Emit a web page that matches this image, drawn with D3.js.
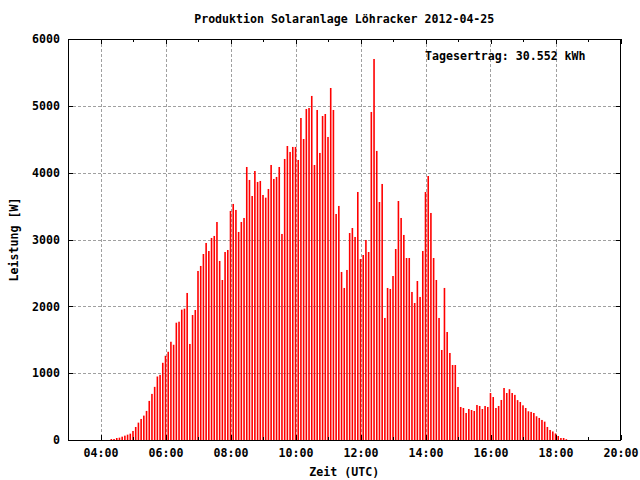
<!DOCTYPE html>
<html>
<head>
<meta charset="utf-8">
<script src="https://cdn.jsdelivr.net/npm/d3@7"></script>
<style>
  body { margin: 0; background: #fff; }
  svg { display: block; }
  text { font-family: "DejaVu Sans Mono", "Liberation Mono", monospace; font-weight: bold; font-size: 11.6px; fill: #000; }
</style>
</head>
<body>
<svg id="chart" width="640" height="480"></svg>
<script>
// ---- data (5-minute power samples, W) ----
const times = [
  "04:20","04:25","04:30","04:35","04:40","04:45","04:50","04:55",
  "05:00","05:05","05:10","05:15","05:20","05:25","05:30","05:35","05:40","05:45","05:50","05:55",
  "06:00","06:05","06:10","06:15","06:20","06:25","06:30","06:35","06:40","06:45","06:50","06:55",
  "07:00","07:05","07:10","07:15","07:20","07:25","07:30","07:35","07:40","07:45","07:50","07:55",
  "08:00","08:05","08:10","08:15","08:20","08:25","08:30","08:35","08:40","08:45","08:50","08:55",
  "09:00","09:05","09:10","09:15","09:20","09:25","09:30","09:35","09:40","09:45","09:50","09:55",
  "10:00","10:05","10:10","10:15","10:20","10:25","10:30","10:35","10:40","10:45","10:50","10:55",
  "11:00","11:05","11:10","11:15","11:20","11:25","11:30","11:35","11:40","11:45","11:50","11:55",
  "12:00","12:05","12:10","12:15","12:20","12:25","12:30","12:35","12:40","12:45","12:50","12:55",
  "13:00","13:05","13:10","13:15","13:20","13:25","13:30","13:35","13:40","13:45","13:50","13:55",
  "14:00","14:05","14:10","14:15","14:20","14:25","14:30","14:35","14:40","14:45","14:50","14:55",
  "15:00","15:05","15:10","15:15","15:20","15:25","15:30","15:35","15:40","15:45","15:50","15:55",
  "16:00","16:05","16:10","16:15","16:20","16:25","16:30","16:35","16:40","16:45","16:50","16:55",
  "17:00","17:05","17:10","17:15","17:20","17:25","17:30","17:35","17:40","17:45","17:50","17:55",
  "18:00","18:05","18:10","18:15","18:20"
];
const power = [
  15,15,30,35,50,65,80,95,
  135,195,260,315,365,435,585,690,795,950,975,1155,
  1260,1320,1470,1425,1755,1770,1950,1965,2200,1437,1870,1945,
  2529,2604,2783,2948,2828,3023,3053,3262,2679,2394,2813,2843,
  3427,3532,3442,3113,3262,3322,4085,3891,3651,4025,3861,3876,
  3666,3626,3756,4115,3906,3936,4085,3083,4205,4399,4310,4385,
  4385,4190,4818,4504,4953,4968,5148,4115,4938,4295,4848,4878,
  4534,5267,4938,3382,3502,2514,2275,2544,3097,3172,3038,3711,
  2708,2768,2993,2813,4908,5701,4325,3561,3831,1826,2275,2260,
  2454,2858,3576,3322,3068,2723,2723,2215,2050,2379,2140,2828,
  3711,3950,3397,2723,2394,1826,1347,2275,1616,1302,1122,1122,
  793,494,479,404,464,449,434,524,509,464,509,494,
  703,643,479,509,599,778,703,760,703,675,597,569,
  519,479,430,420,404,355,330,300,275,195,150,128,
  98,60,30,30,12
];
const majorTicks = ["04:00","06:00","08:00","10:00","12:00","14:00","16:00","18:00","20:00"];
const minorTicks = ["05:00","07:00","09:00","11:00","13:00","15:00","17:00","19:00"];
const yTicks = [0,1000,2000,3000,4000,5000,6000];
const xDomain = ["03:00","20:00"];
const yDomain = [0,6000];
const titleText = "Produktion Solaranlage Löhracker 2012-04-25";
const xLabel = "Zeit (UTC)";
const yLabel = "Leistung [W]";
const noteText = "Tagesertrag: 30.552 kWh";

// ---- drawing ----
const day = "2012-04-25";
const parse = s => new Date(day + "T" + s + ":00Z");
const L = 68, R = 620.5, T = 39, B = 440;
const svg = d3.select("#chart");
svg.append("rect").attr("width", 640).attr("height", 480).attr("fill", "#fff");

const x = d3.scaleUtc().domain(xDomain.map(parse)).range([L, R]);
const y = d3.scaleLinear().domain(yDomain).range([B, T]);
const fmt = d3.utcFormat("%H:%M");

// grid
const grid = svg.append("g").attr("stroke", "#a0a0a0").attr("stroke-width", 1)
  .attr("stroke-dasharray", "3,2").attr("shape-rendering", "crispEdges");
grid.selectAll("line.gx").data(majorTicks.map(parse).filter(d => x(d) < R - 1))
  .join("line").attr("x1", d => Math.round(x(d)) + 0.5).attr("x2", d => Math.round(x(d)) + 0.5)
  .attr("y1", T).attr("y2", B);
grid.selectAll("line.gy").data(yTicks.filter(v => v > 0 && v < 6000))
  .join("line").attr("x1", L).attr("x2", R)
  .attr("y1", d => Math.round(y(d)) + 0.5).attr("y2", d => Math.round(y(d)) + 0.5);

// bars (impulses)
svg.append("g").attr("fill", "#ff0000")
  .selectAll("rect").data(power.map((v, i) => ({t: parse(times[i]), v})))
  .join("rect")
  .attr("x", d => x(d.t) - 0.8).attr("width", 1.6)
  .attr("y", d => y(d.v)).attr("height", d => B - y(d.v));

// axes
const axB = d3.axisBottom(x).tickValues(majorTicks.map(parse)).tickFormat(fmt)
  .tickSizeInner(-5).tickSizeOuter(0).tickPadding(9);
svg.append("g").attr("transform", `translate(0,${B})`).call(axB);
const axBm = d3.axisBottom(x).tickValues(minorTicks.map(parse)).tickFormat("")
  .tickSizeInner(-3).tickSizeOuter(0);
svg.append("g").attr("transform", `translate(0,${B})`).call(axBm);
const axT = d3.axisTop(x).tickValues(majorTicks.map(parse)).tickFormat("")
  .tickSizeInner(-5).tickSizeOuter(0);
svg.append("g").attr("transform", `translate(0,${T})`).call(axT);
const axTm = d3.axisTop(x).tickValues(minorTicks.map(parse)).tickFormat("")
  .tickSizeInner(-3).tickSizeOuter(0);
svg.append("g").attr("transform", `translate(0,${T})`).call(axTm);
const axL = d3.axisLeft(y).tickValues(yTicks).tickFormat(d3.format("d"))
  .tickSizeInner(-5).tickSizeOuter(0).tickPadding(8);
svg.append("g").attr("transform", `translate(${L},0)`).call(axL);
const axR = d3.axisRight(y).tickValues(yTicks).tickFormat("")
  .tickSizeInner(-5).tickSizeOuter(0);
svg.append("g").attr("transform", `translate(${R},0)`).call(axR);

svg.selectAll(".domain").remove();
svg.selectAll(".tick line").attr("stroke", "#000").attr("shape-rendering", "crispEdges");
svg.selectAll(".tick text").attr("fill", "#000");
svg.selectAll("g").attr("font-family", null).attr("font-size", null);

// border
svg.append("rect").attr("x", L).attr("y", T).attr("width", R - L).attr("height", B - T)
  .attr("fill", "none").attr("stroke", "#000").attr("stroke-width", 1)
  .attr("shape-rendering", "crispEdges");

// texts
svg.append("text").attr("x", (L + R) / 2).attr("y", 23).attr("text-anchor", "middle").text(titleText);
svg.append("text").attr("x", (L + R) / 2).attr("y", 476).attr("text-anchor", "middle").text(xLabel);
svg.append("text").attr("transform", `translate(18,${(T + B) / 2}) rotate(-90)`)
  .attr("text-anchor", "middle").text(yLabel);
svg.append("text").attr("x", 425).attr("y", 60).text(noteText);
</script>
</body>
</html>
